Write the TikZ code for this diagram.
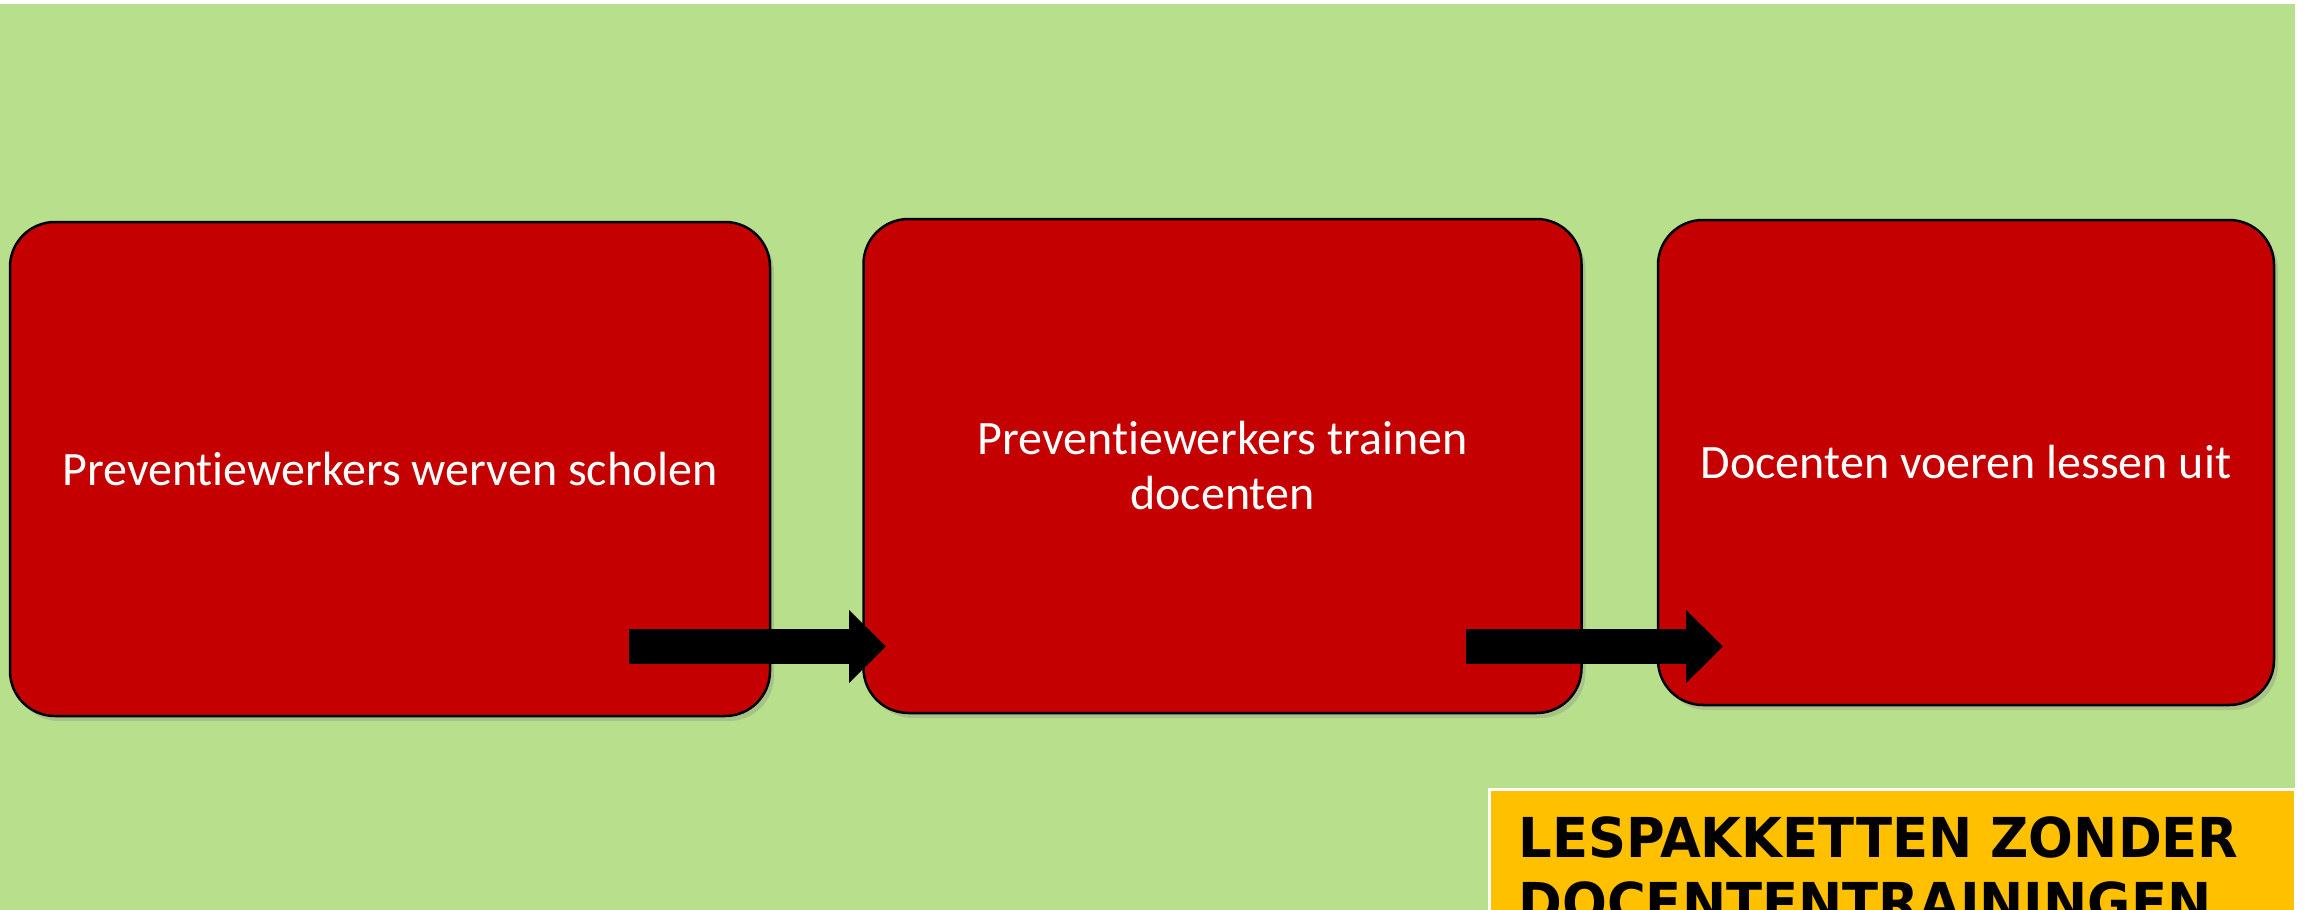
\documentclass[tikz,border=0pt]{standalone}
\usepackage{fontspec}
\setmainfont{Carlito}[Ligatures=NoCommon]
\newfontfamily\bannerfont{DejaVu Sans}[FakeStretch=0.96]
\usetikzlibrary{positioning, arrows.meta, shadows}
\definecolor{lightgreen}{RGB}{184,224,140}
\definecolor{darkred}{RGB}{196,0,0}
\definecolor{gold}{RGB}{255,192,0}

\begin{document}
\begin{tikzpicture}[x=1pt, y=-1pt,
  stepbox/.style={rectangle, rounded corners=45pt, draw=black, line width=2.5pt, fill=darkred, text=white, align=center, font=\fontsize{48}{55}\selectfont, drop shadow={shadow xshift=4pt, shadow yshift=-5pt, opacity=0.3}},
  flowarrow/.style={line width=35pt, -{Triangle[length=37pt, width=71pt]}},
  banner/.style={rectangle, draw=white, line width=3pt, fill=gold, text=black, align=left, text width=748pt, inner xsep=29pt, inner ysep=27pt, minimum width=806pt, font=\bannerfont\bfseries\fontsize{55}{65}\selectfont}]
\useasboundingbox (0,0) rectangle (2305,910);
\clip (0,0) rectangle (2305,910);
\fill[white] (0,0) rectangle (2305,910);
\fill[lightgreen] (0,4) rectangle (2295,910);
\node[stepbox, minimum width=760pt, minimum height=494pt] (werven) at (390,469) {Preventiewerkers werven scholen};
\node[stepbox, minimum width=718pt, minimum height=494pt] (trainen) [right=91pt of werven, yshift=3pt] {Preventiewerkers trainen\\docenten};
\node[stepbox, minimum width=616pt, minimum height=485pt] (lessen) [right=74pt of trainen, yshift=3.5pt] {Docenten voeren lessen uit};
\coordinate (arrowAstart) at (629,646.5);
\coordinate (arrowAend) at (886,646.5);
\coordinate (arrowBstart) at (1466,646.5);
\coordinate (arrowBend) at (1723,646.5);
\draw[flowarrow] (arrowAstart) -- (arrowAend);
\draw[flowarrow] (arrowBstart) -- (arrowBend);
\node[banner, anchor=north west] (zonder) at (1488,788) {LESPAKKETTEN ZONDER\\DOCENTENTRAININGEN};
\end{tikzpicture}
\end{document}
